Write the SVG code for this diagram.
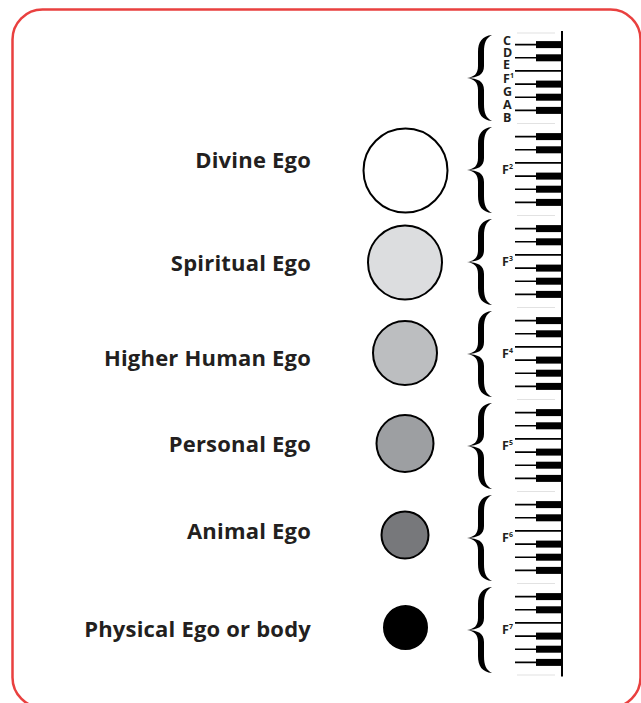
<svg xmlns="http://www.w3.org/2000/svg" width="641" height="703" viewBox="0 0 641 703">
<style>
.lbl{font-family:"Open Sans","Liberation Sans",sans-serif;font-weight:bold;font-size:22px;letter-spacing:0.2px;fill:#231f20;text-anchor:end}
.note{font-family:"Open Sans","Liberation Sans",sans-serif;font-weight:bold;font-size:12.5px;fill:#231f20}
.ego{stroke:#000;stroke-width:2}
.wk{stroke:#000;stroke-width:1.6}
.fk{stroke:#e2e2e2;stroke-width:1.2}
.bk{fill:#000}
.brace{fill:#000}
</style>
<defs>
<path id="br" d="M12,-43 C2,-42 -2,-36 -2,-26 L-2,-12 C-2,-4 -6,-1 -13,0 C-6,1 -2,4 -2,12 L-2,26 C-2,36 2,42 12,43 C6,40 4,35 4,26 L4,12 C4,3 -2,0.6 -13,0 C-2,-0.6 4,-3 4,-12 L4,-26 C4,-35 6,-40 12,-43 Z"/>
</defs>
<rect x="12.5" y="9.5" width="628" height="698" rx="30" fill="#fff" stroke="#e9403f" stroke-width="2.5"/>

<g id="divine-ego"><circle class="ego" cx="405.5" cy="170.5" r="42" fill="#ffffff"/><text class="lbl" x="311" y="168">Divine Ego</text></g>
<g id="spiritual-ego"><circle class="ego" cx="405" cy="262.5" r="37" fill="#dcdddf"/><text class="lbl" x="311" y="271">Spiritual Ego</text></g>
<g id="higher-human-ego"><circle class="ego" cx="405" cy="353" r="32" fill="#bcbec0"/><text class="lbl" x="311" y="366">Higher Human Ego</text></g>
<g id="personal-ego"><circle class="ego" cx="405" cy="443.5" r="28.5" fill="#9d9fa2"/><text class="lbl" x="311" y="452">Personal Ego</text></g>
<g id="animal-ego"><circle class="ego" cx="405" cy="535" r="23.5" fill="#77787b"/><text class="lbl" x="311" y="539">Animal Ego</text></g>
<g id="physical-ego"><circle class="ego" cx="405.5" cy="627.5" r="21.5" fill="#000"/><text class="lbl" x="311" y="637">Physical Ego or body</text></g>

<g id="keyboard">
<line x1="562" y1="31" x2="562" y2="676.5" stroke="#000" stroke-width="2"/>
<g id="octave-1">
<line class="fk" x1="517" y1="33" x2="555" y2="33"/>
<line class="wk" x1="515" y1="44.6" x2="562" y2="44.6"/><rect class="bk" x="536" y="41.1" width="26" height="7"/>
<line class="wk" x1="515" y1="57.8" x2="562" y2="57.8"/><rect class="bk" x="536" y="54.3" width="26" height="7"/>
<line class="wk" x1="515" y1="70.9" x2="562" y2="70.9"/>
<line class="wk" x1="515" y1="84.1" x2="562" y2="84.1"/><rect class="bk" x="536" y="80.6" width="26" height="7"/>
<line class="wk" x1="515" y1="97.2" x2="562" y2="97.2"/><rect class="bk" x="536" y="93.7" width="26" height="7"/>
<line class="wk" x1="515" y1="110.4" x2="562" y2="110.4"/><rect class="bk" x="536" y="106.9" width="26" height="7"/>
<use class="brace" href="#br" x="480" y="78"/>
<text class="note" x="503" y="44.5">C</text>
<text class="note" x="503" y="56.5">D</text>
<text class="note" x="503" y="69">E</text>
<text class="note" x="503" y="82.5">F<tspan font-size="7" dy="-5">1</tspan></text>
<text class="note" x="503" y="95.5">G</text>
<text class="note" x="503" y="108.5">A</text>
<text class="note" x="503" y="121.5">B</text>
</g>
<g id="octave-2" transform="translate(0,92)">
<line class="fk" x1="517" y1="31.5" x2="555" y2="31.5"/>
<line class="wk" x1="515" y1="44.6" x2="562" y2="44.6"/><rect class="bk" x="536" y="41.1" width="26" height="7"/>
<line class="wk" x1="515" y1="57.8" x2="562" y2="57.8"/><rect class="bk" x="536" y="54.3" width="26" height="7"/>
<line class="wk" x1="515" y1="70.9" x2="562" y2="70.9"/>
<line class="wk" x1="515" y1="84.1" x2="562" y2="84.1"/><rect class="bk" x="536" y="80.6" width="26" height="7"/>
<line class="wk" x1="515" y1="97.2" x2="562" y2="97.2"/><rect class="bk" x="536" y="93.7" width="26" height="7"/>
<line class="wk" x1="515" y1="110.4" x2="562" y2="110.4"/><rect class="bk" x="536" y="106.9" width="26" height="7"/>
<use class="brace" href="#br" x="480" y="78"/>
<text class="note" x="502" y="82">F<tspan font-size="7" dy="-5">2</tspan></text>
</g>
<g id="octave-3" transform="translate(0,184)">
<line class="fk" x1="517" y1="31.5" x2="555" y2="31.5"/>
<line class="wk" x1="515" y1="44.6" x2="562" y2="44.6"/><rect class="bk" x="536" y="41.1" width="26" height="7"/>
<line class="wk" x1="515" y1="57.8" x2="562" y2="57.8"/><rect class="bk" x="536" y="54.3" width="26" height="7"/>
<line class="wk" x1="515" y1="70.9" x2="562" y2="70.9"/>
<line class="wk" x1="515" y1="84.1" x2="562" y2="84.1"/><rect class="bk" x="536" y="80.6" width="26" height="7"/>
<line class="wk" x1="515" y1="97.2" x2="562" y2="97.2"/><rect class="bk" x="536" y="93.7" width="26" height="7"/>
<line class="wk" x1="515" y1="110.4" x2="562" y2="110.4"/><rect class="bk" x="536" y="106.9" width="26" height="7"/>
<use class="brace" href="#br" x="480" y="78"/>
<text class="note" x="502" y="82">F<tspan font-size="7" dy="-5">3</tspan></text>
</g>
<g id="octave-4" transform="translate(0,276)">
<line class="fk" x1="517" y1="31.5" x2="555" y2="31.5"/>
<line class="wk" x1="515" y1="44.6" x2="562" y2="44.6"/><rect class="bk" x="536" y="41.1" width="26" height="7"/>
<line class="wk" x1="515" y1="57.8" x2="562" y2="57.8"/><rect class="bk" x="536" y="54.3" width="26" height="7"/>
<line class="wk" x1="515" y1="70.9" x2="562" y2="70.9"/>
<line class="wk" x1="515" y1="84.1" x2="562" y2="84.1"/><rect class="bk" x="536" y="80.6" width="26" height="7"/>
<line class="wk" x1="515" y1="97.2" x2="562" y2="97.2"/><rect class="bk" x="536" y="93.7" width="26" height="7"/>
<line class="wk" x1="515" y1="110.4" x2="562" y2="110.4"/><rect class="bk" x="536" y="106.9" width="26" height="7"/>
<use class="brace" href="#br" x="480" y="78"/>
<text class="note" x="502" y="82">F<tspan font-size="7" dy="-5">4</tspan></text>
</g>
<g id="octave-5" transform="translate(0,368)">
<line class="fk" x1="517" y1="31.5" x2="555" y2="31.5"/>
<line class="wk" x1="515" y1="44.6" x2="562" y2="44.6"/><rect class="bk" x="536" y="41.1" width="26" height="7"/>
<line class="wk" x1="515" y1="57.8" x2="562" y2="57.8"/><rect class="bk" x="536" y="54.3" width="26" height="7"/>
<line class="wk" x1="515" y1="70.9" x2="562" y2="70.9"/>
<line class="wk" x1="515" y1="84.1" x2="562" y2="84.1"/><rect class="bk" x="536" y="80.6" width="26" height="7"/>
<line class="wk" x1="515" y1="97.2" x2="562" y2="97.2"/><rect class="bk" x="536" y="93.7" width="26" height="7"/>
<line class="wk" x1="515" y1="110.4" x2="562" y2="110.4"/><rect class="bk" x="536" y="106.9" width="26" height="7"/>
<use class="brace" href="#br" x="480" y="78"/>
<text class="note" x="502" y="82">F<tspan font-size="7" dy="-5">5</tspan></text>
</g>
<g id="octave-6" transform="translate(0,460)">
<line class="fk" x1="517" y1="31.5" x2="555" y2="31.5"/>
<line class="wk" x1="515" y1="44.6" x2="562" y2="44.6"/><rect class="bk" x="536" y="41.1" width="26" height="7"/>
<line class="wk" x1="515" y1="57.8" x2="562" y2="57.8"/><rect class="bk" x="536" y="54.3" width="26" height="7"/>
<line class="wk" x1="515" y1="70.9" x2="562" y2="70.9"/>
<line class="wk" x1="515" y1="84.1" x2="562" y2="84.1"/><rect class="bk" x="536" y="80.6" width="26" height="7"/>
<line class="wk" x1="515" y1="97.2" x2="562" y2="97.2"/><rect class="bk" x="536" y="93.7" width="26" height="7"/>
<line class="wk" x1="515" y1="110.4" x2="562" y2="110.4"/><rect class="bk" x="536" y="106.9" width="26" height="7"/>
<use class="brace" href="#br" x="480" y="78"/>
<text class="note" x="502" y="82">F<tspan font-size="7" dy="-5">6</tspan></text>
</g>
<g id="octave-7" transform="translate(0,552)">
<line class="fk" x1="517" y1="31.5" x2="555" y2="31.5"/>
<line class="wk" x1="515" y1="44.6" x2="562" y2="44.6"/><rect class="bk" x="536" y="41.1" width="26" height="7"/>
<line class="wk" x1="515" y1="57.8" x2="562" y2="57.8"/><rect class="bk" x="536" y="54.3" width="26" height="7"/>
<line class="wk" x1="515" y1="70.9" x2="562" y2="70.9"/>
<line class="wk" x1="515" y1="84.1" x2="562" y2="84.1"/><rect class="bk" x="536" y="80.6" width="26" height="7"/>
<line class="wk" x1="515" y1="97.2" x2="562" y2="97.2"/><rect class="bk" x="536" y="93.7" width="26" height="7"/>
<line class="wk" x1="515" y1="110.4" x2="562" y2="110.4"/><rect class="bk" x="536" y="106.9" width="26" height="7"/>
<use class="brace" href="#br" x="480" y="78"/>
<text class="note" x="502" y="82">F<tspan font-size="7" dy="-5">7</tspan></text>
<line class="fk" x1="517" y1="123" x2="555" y2="123"/>
</g>
</g>
<g id="connectors"/>
</svg>
